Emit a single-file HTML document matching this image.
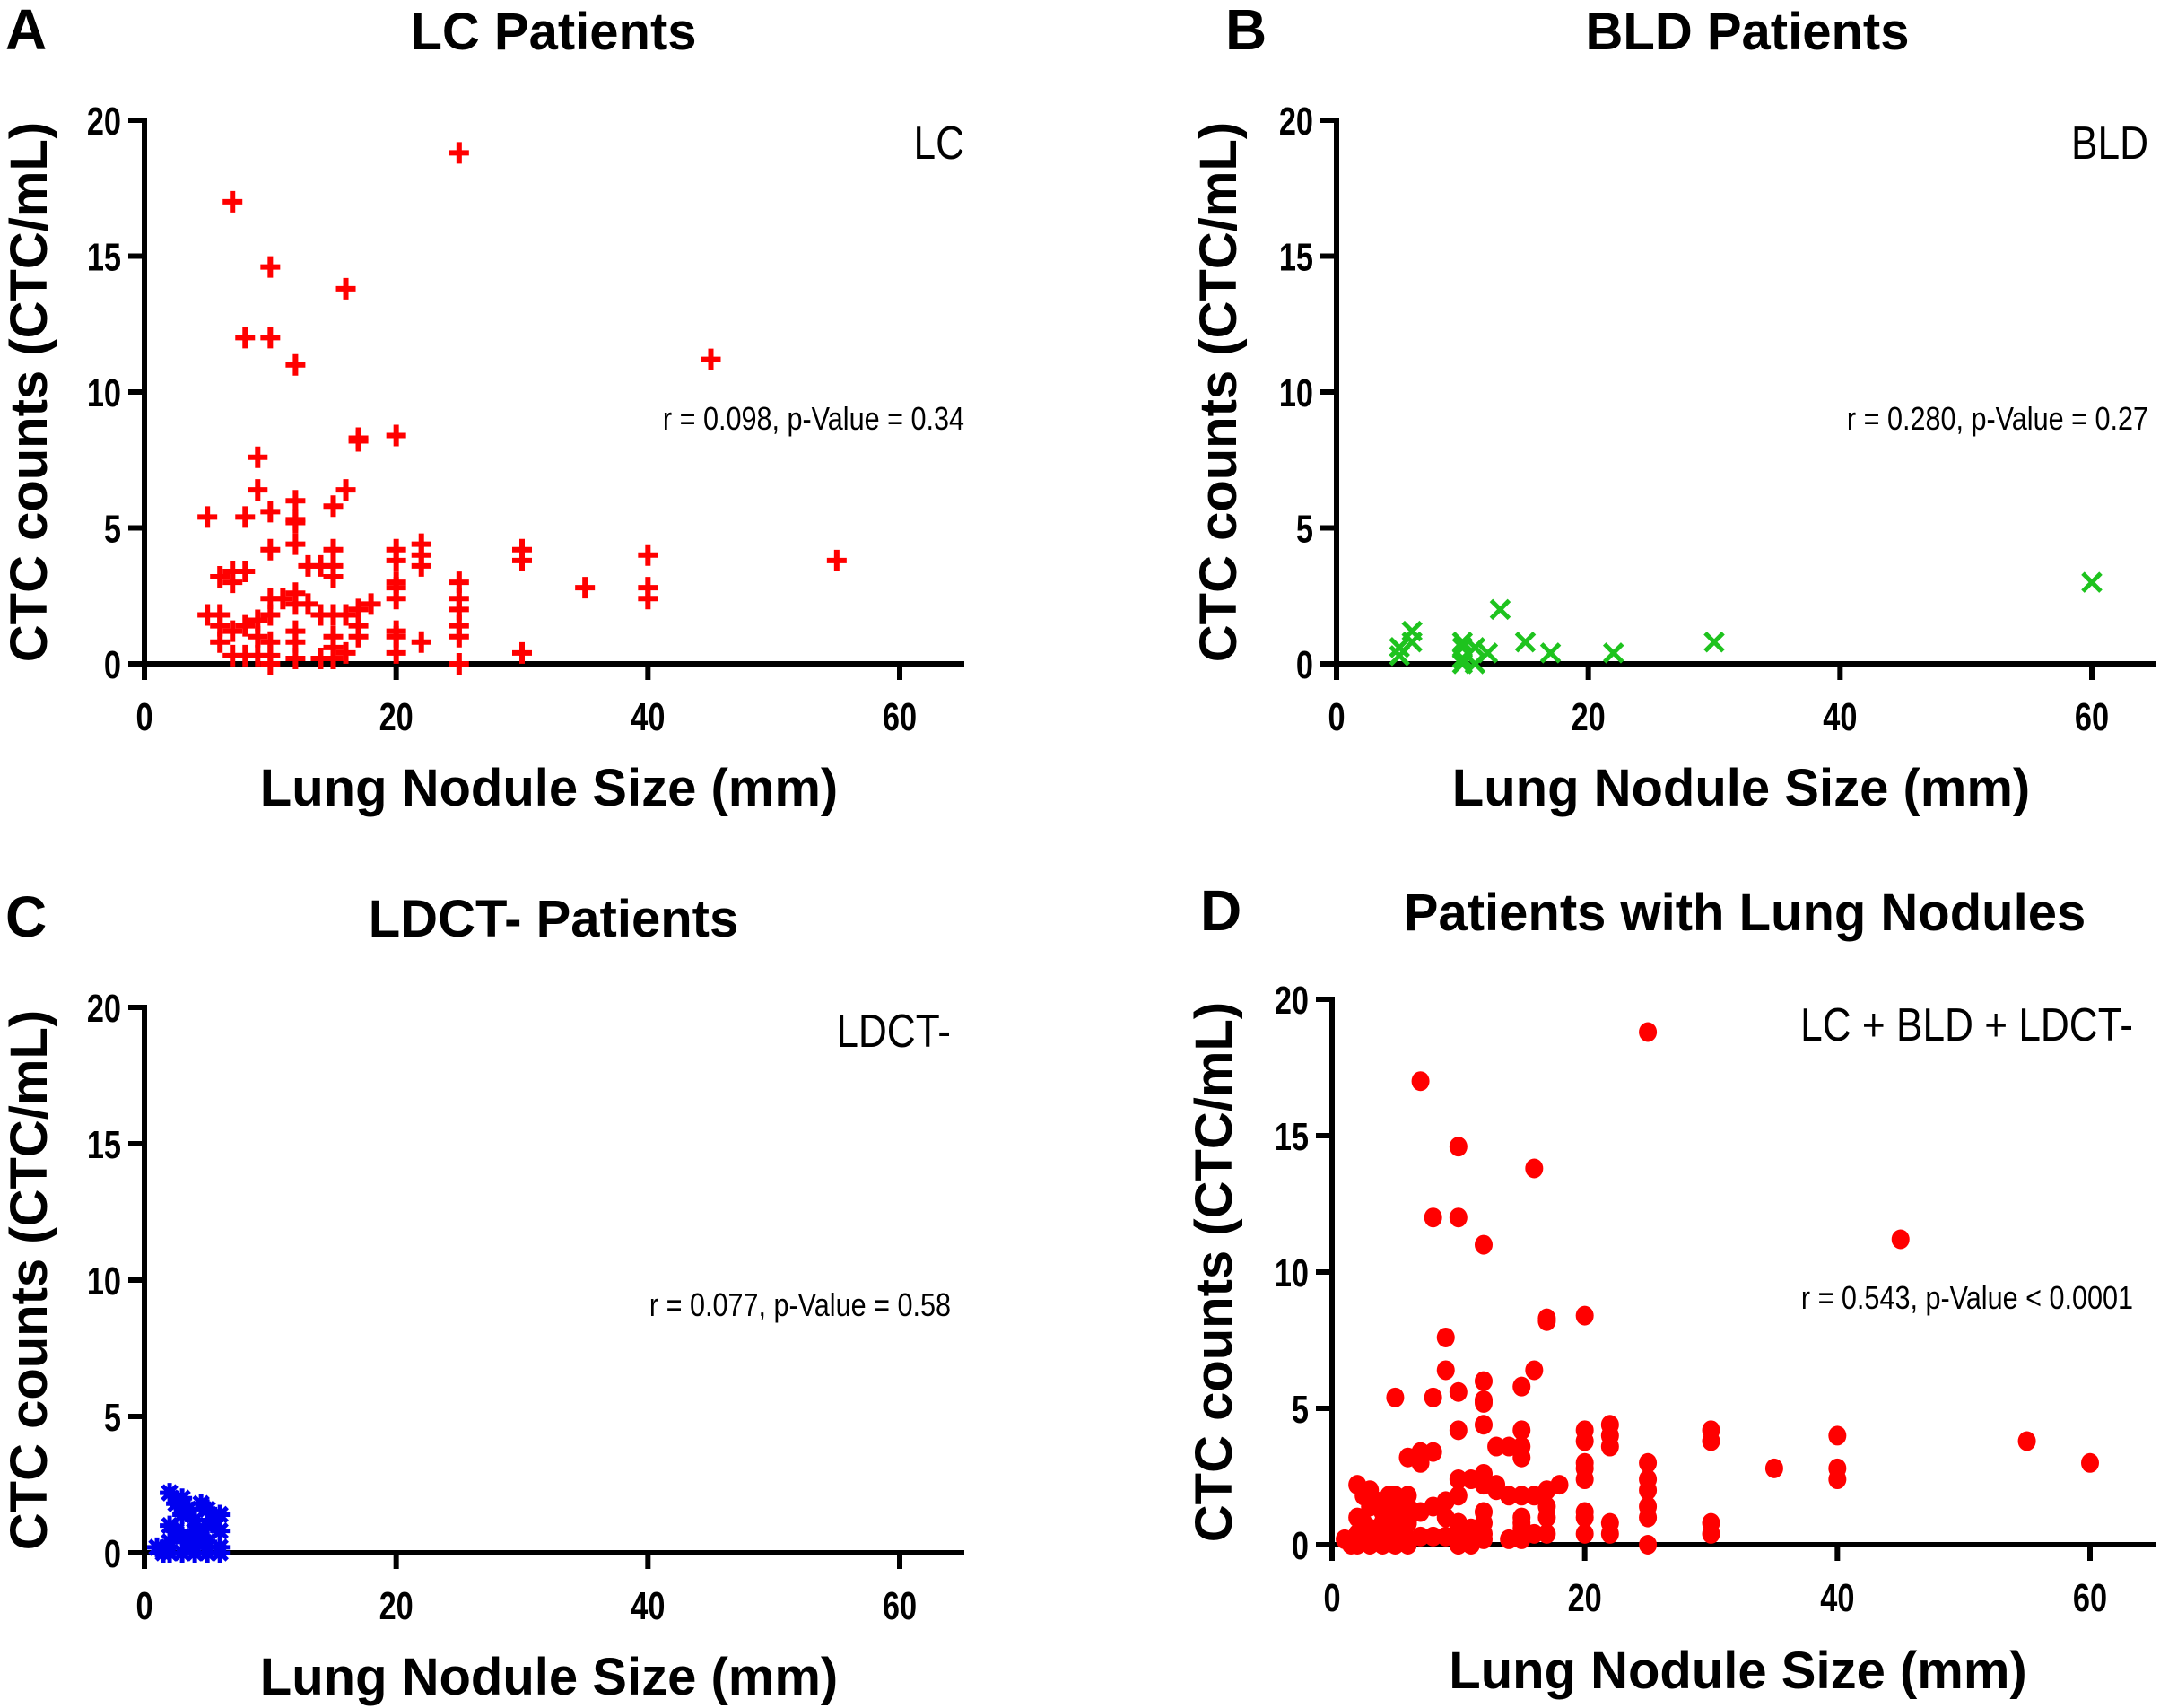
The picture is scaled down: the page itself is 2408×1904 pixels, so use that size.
<!DOCTYPE html>
<html><head><meta charset="utf-8"><style>
html,body{margin:0;padding:0;background:#fff}
svg{display:block}
text{font-family:"Liberation Sans",Arial,sans-serif}
.b{font-family:"Liberation Sans",Arial,sans-serif;font-weight:bold}
</style></head><body>
<svg id="fig" width="2408" height="1904" viewBox="0 0 2408 1904" xmlns="http://www.w3.org/2000/svg"></svg>
<script>
const xTicks=[0,20,40,60];
const yTicks=[0,5,10,15,20];
const lcX=[7,10,8,10,12,16,25,45,55,17,17,20,9,9,16,12,15,5,8,10,12,12,12,10,14,13,15,15,15,20,20,20,20,20,22,22,22,25,25,25,25,25,25,30,30,30,35,40,40,40,6,7,7,8,5,6,6,7,8,9,9,10,10,11,12,12,13,12,14,15,16,17,18,17,17,15,15,16,15,20,20,20,22,7,8,9,10,10,12,14,6,10,12];
const lcY=[17,14.6,12,12,11,13.8,18.8,11.2,3.8,8.3,8.2,8.4,7.6,6.4,6.4,6,5.8,5.4,5.4,5.6,5.3,5.2,4.4,4.2,3.6,3.6,4.2,3.6,3.2,4.2,3.8,3,2.8,2.4,4.4,4,3.6,3,2.4,2,1.4,1,0,4.2,3.8,0.4,2.8,4,2.8,2.4,3.2,3,3.4,3.4,1.8,1.8,1.4,1.2,1.4,1.6,1,1.8,2.4,2.4,2.6,2.2,2.2,1.2,1.8,1.8,1.8,2,2.2,1.4,1,1,0.6,0.4,0.2,1.2,1,0.4,0.8,0.3,0.3,0.3,0.3,0,0.2,0.2,0.8,0.8,0.8];
const bldX=[5,5,6,6,10,10,10,10,11,11,12,13,15,17,22,30,60];
const bldY=[0.6,0.3,0.8,1.2,0.8,0.6,0.2,0,0,0.6,0.4,2,0.8,0.4,0.4,0.8,3];
const ldX=[1,2,2,2,2.5,3,3,3,3,4,4,4,4,5,5,5,5,6,6,6,1.5,2,3.5,4.5,5.5,6,2.5,3.5,4.5];
const ldY=[0.2,0.4,1,2.2,1.8,0,0.6,1.4,2,0.2,0.8,1.2,0,0.4,1,1.6,0,0.2,0.8,1.4,0,0,0.4,0.6,1.2,0,0.8,1.6,1.8];
const allX=lcX.concat(bldX,ldX);
const allY=lcY.concat(bldY,ldY);

const NS="http://www.w3.org/2000/svg";
const svg=document.getElementById('fig');
function mk(tag,attrs,parent,txt){const e=document.createElementNS(NS,tag);for(const k in attrs)e.setAttribute(k,attrs[k]);if(txt!==undefined)e.textContent=txt;(parent||svg).appendChild(e);return e;}

function panel(p){
  const g=mk('g',{});
  
  
  const sx=v=>p.x0+(p.x60-p.x0)*v/60;
  const sy=v=>p.y0-(p.y0-p.y20)*v/20;
  let t=mk('text',{x:p.lx,y:p.ty,'font-size':64,class:'b'},g,p.letter);
  
  t=mk('text',{x:p.tx,y:p.ty,'font-size':58,class:'b','text-anchor':'middle'},g,p.title);
  
  const ax=mk('g',{stroke:'#000','stroke-width':6,fill:'none'},g);
  
  mk('line',{x1:p.x0,y1:p.y20-3,x2:p.x0,y2:p.y0+18},ax);
  mk('line',{x1:p.x0-18,y1:p.y0,x2:p.xr,y2:p.y0},ax);
  for(const v of xTicks){
    mk('line',{x1:sx(v),y1:p.y0,x2:sx(v),y2:p.y0+18},ax);
    t=mk('text',{transform:`translate(${sx(v)} ${p.y0+74}) scale(0.78 1)`,'font-size':44,class:'b','text-anchor':'middle'},g,String(v));
    
  }
  for(const v of yTicks){
    mk('line',{x1:p.x0-18,y1:sy(v),x2:p.x0,y2:sy(v)},ax);
    t=mk('text',{transform:`translate(${p.x0-26} ${sy(v)+16}) scale(0.78 1)`,'font-size':44,class:'b','text-anchor':'end'},g,String(v));
    
  }
  t=mk('text',{x:(p.x0+p.x60)/2+30,y:p.xtY,'font-size':58,class:'b','text-anchor':'middle'},g,'Lung Nodule Size (mm)');
  
  const cy=(p.y0+p.y20)/2;
  t=mk('text',{x:p.ytX,y:cy,'font-size':58,class:'b','text-anchor':'middle',transform:`rotate(-90 ${p.ytX} ${cy})`},g,'CTC counts (CTC/mL)');
  
  t=mk('text',{transform:`translate(${p.ar} ${p.aY}) scale(0.85 1)`,'font-size':52,'text-anchor':'end'},g,p.label);
  
  t=mk('text',{transform:`translate(${p.ar} ${p.rY}) scale(0.85 1)`,'font-size':36,'text-anchor':'end'},g,p.rtxt);
  
  const pts=mk('g',{},g);
  
  for(let i=0;i<p.xs.length;i++){
    const x=sx(p.xs[i]),y=sy(p.ys[i]);let m;
    if(p.mk==='plus'){m=mk('path',{d:`M${x-11} ${y}H${x+11}M${x} ${y-12}V${y+12}`,stroke:'#f00','stroke-width':6,fill:'none'},pts);}
    else if(p.mk==='x'){m=mk('path',{d:`M${x-10} ${y-10}L${x+10} ${y+10}M${x-10} ${y+10}L${x+10} ${y-10}`,stroke:'#1ec31e','stroke-width':5,fill:'none'},pts);}
    else if(p.mk==='star'){m=mk('path',{d:`M${x-11} ${y}H${x+11}M${x} ${y-11}V${y+11}M${x-8} ${y-8}L${x+8} ${y+8}M${x-8} ${y+8}L${x+8} ${y-8}`,stroke:'#0000f0','stroke-width':5,fill:'none'},pts);}
    else {m=mk('ellipse',{cx:x,cy:y,rx:10,ry:11,fill:'#f00'},pts);}
    
    
  }
}
panel({id:'lc',letter:'A',title:'LC Patients',lx:6,tx:617,ty:55,x0:161,x60:1003,y0:740,y20:134,xr:1075,xtY:898,ytX:52,ar:1075,aY:177,rY:479,label:'LC',rtxt:'r = 0.098, p-Value =  0.34',xs:lcX,ys:lcY,mk:'plus'});
panel({id:'bld',letter:'B',title:'BLD Patients',lx:1366,tx:1948,ty:55,x0:1490,x60:2332,y0:740,y20:134,xr:2404,xtY:898,ytX:1378,ar:2395,aY:177,rY:479,label:'BLD',rtxt:'r = 0.280, p-Value =  0.27',xs:bldX,ys:bldY,mk:'x'});
panel({id:'ldct',letter:'C',title:'LDCT- Patients',lx:6,tx:617,ty:1044,x0:161,x60:1003,y0:1731,y20:1123,xr:1075,xtY:1889,ytX:52,ar:1060,aY:1167,rY:1467,label:'LDCT-',rtxt:'r = 0.077, p-Value =  0.58',xs:ldX,ys:ldY,mk:'star'});
panel({id:'all',letter:'D',title:'Patients with Lung Nodules',lx:1338,tx:1945,ty:1037,x0:1485,x60:2330,y0:1722,y20:1114,xr:2404,xtY:1882,ytX:1373,ar:2378,aY:1160,rY:1459,label:'LC + BLD + LDCT-',rtxt:'r = 0.543, p-Value < 0.0001',xs:allX,ys:allY,mk:'dot'});
</script>
</body></html>
